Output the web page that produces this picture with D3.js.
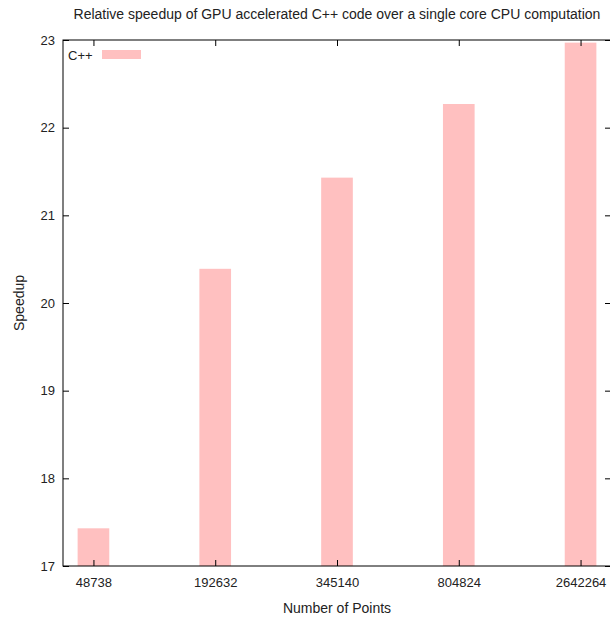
<!DOCTYPE html>
<html><head><meta charset="utf-8">
<script src="https://cdn.jsdelivr.net/npm/d3@7"></script>
<style>body{margin:0;background:#fff}svg{display:block}text{font-family:"Liberation Sans",Arial,sans-serif;fill:#222}</style>
</head><body>
<svg id="c" width="610" height="619"></svg>
<script>
const categories = ["48738","192632","345140","804824","2642264"];
const speedup = [17.43, 20.39, 21.43, 22.27, 22.97];
const yTicks = [17,18,19,20,21,22,23];
const seriesName = "C++";
const title = "Relative speedup of GPU accelerated C++ code over a single core CPU computation";

const svg = d3.select("#c");
const L = 63, R = 611, T = 40, B = 566;
const x = d3.scaleLinear().domain([-0.25, 4.25]).range([L, R]);
const y = d3.scaleLinear().domain([17, 23]).range([B, T]);
const barW = x(0.26) - x(0);
const color = "#ffc0c0";

svg.append("g").selectAll("rect").data(speedup).join("rect")
  .attr("x", (d,i) => x(i) - barW/2)
  .attr("width", barW)
  .attr("y", d => y(d))
  .attr("height", d => y(17) - y(d))
  .attr("fill", color);

const tickLen = 6;
const yl = svg.append("g").attr("transform", `translate(${L},0)`)
  .call(d3.axisLeft(y).tickValues(yTicks).tickFormat(d3.format("d")).tickSize(-tickLen).tickPadding(8));
const yr = svg.append("g").attr("transform", `translate(${R},0)`)
  .call(d3.axisRight(y).tickValues(yTicks).tickSize(-tickLen).tickFormat(""));
const xb = svg.append("g").attr("transform", `translate(0,${B})`)
  .call(d3.axisBottom(x).tickValues(d3.range(categories.length)).tickFormat(i => categories[i]).tickSize(-tickLen).tickPadding(12));
const xt = svg.append("g").attr("transform", `translate(0,${T})`)
  .call(d3.axisTop(x).tickValues(d3.range(categories.length)).tickSize(-tickLen).tickFormat(""));
[yl,yr,xb,xt].forEach(g => {
  g.select(".domain").remove();
  g.selectAll("line").attr("stroke","#000").attr("stroke-width",1);
  g.selectAll("text").attr("font-size",13).attr("font-family",'"Liberation Sans",Arial,sans-serif').attr("fill","#222");
});
svg.append("rect").attr("x",L).attr("y",T).attr("width",R-L).attr("height",B-T)
  .attr("fill","none").attr("stroke","#000").attr("stroke-width",1);

svg.append("text").attr("x",(L+R)/2).attr("y",19).attr("text-anchor","middle").attr("font-size",14).text(title);
svg.append("text").attr("x",(L+R)/2).attr("y",613).attr("text-anchor","middle").attr("font-size",14).text("Number of Points");
svg.append("text").attr("transform",`translate(24,${(T+B)/2}) rotate(-90)`).attr("text-anchor","middle").attr("font-size",14).text("Speedup");

svg.append("text").attr("x",68).attr("y",60).attr("font-size",13).text(seriesName);
svg.append("rect").attr("x",102).attr("y",50).attr("width",39).attr("height",9).attr("fill",color);
</script>
</body></html>
